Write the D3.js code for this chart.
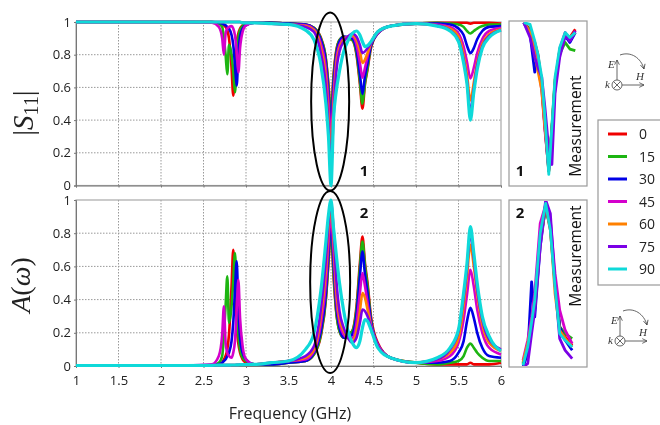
<!DOCTYPE html>
<html>
<head>
<meta charset="utf-8">
<script src="https://cdn.jsdelivr.net/npm/d3@7"></script>
<style>
  html, body { margin: 0; padding: 0; background: #fff; overflow: hidden; }
  svg { display: block; filter: blur(0.35px); }
  text { font-family: "Open Sans", sans-serif; fill: #222; }
  .icon text { font-family: "Liberation Serif", serif; font-style: italic; font-size: 11px; fill: #333; }
</style>
</head>
<body>
<div id="chart"></div>
<script>
const angles = ["0", "15", "30", "45", "60", "75", "90"];
const colors = ["#f00000", "#1db512", "#0000e6", "#d400cc", "#ff8000", "#7b00e6", "#0fd9d9"];
const xTicks = [1, 1.5, 2, 2.5, 3, 3.5, 4, 4.5, 5, 5.5, 6];
const yTicks = [0, 0.2, 0.4, 0.6, 0.8, 1];

const freq = [1, 2.3, 2.6, 2.68, 2.72, 2.74, 2.76, 2.78, 2.8, 2.83, 2.85, 2.87, 2.89, 2.91, 2.93, 2.96, 3, 3.1,
  3.3, 3.5, 3.7, 3.8, 3.88, 3.94, 3.97, 4, 4.03, 4.06, 4.1, 4.15, 4.2, 4.25, 4.3, 4.34, 4.37, 4.4, 4.43, 4.47,
  4.55, 4.7, 5, 5.25, 5.4, 5.5, 5.56, 5.6, 5.64, 5.68, 5.72, 5.78, 5.86, 6];

/* |S11| */
const s11_0 = [1, 1, 1, .995, .99, .98, .97, .95, .9, .72, .55, .7, .87, .93, .96, .98, .99, .995,
  .995, .99, .985, .965, .905, .775, .62, .42, .68, .82, .89, .91, .9, .89, .8, .62, .47, .62, .71, .84,
  .93, .975, .99, .995, .995, .995, .995, .995, .99, .995, .995, .995, .995, .99];
const s11_15 = [1, 1, 1, .99, .97, .9, .8, .68, .86, .8, .7, .57, .75, .9, .95, .975, .985, .995,
  .995, .99, .985, .965, .9, .77, .61, .4, .66, .81, .89, .91, .9, .89, .81, .64, .5, .63, .72, .85,
  .93, .975, .99, .995, .99, .985, .97, .945, .93, .945, .96, .975, .985, .985];
const s11_30 = [1, 1, 1, .995, .99, .985, .98, .97, .96, .92, .86, .74, .61, .8, .91, .96, .98, .995,
  .995, .99, .985, .96, .89, .75, .57, .36, .62, .79, .88, .91, .91, .9, .83, .68, .56, .67, .75, .855,
  .93, .975, .99, .99, .985, .96, .92, .855, .81, .84, .895, .945, .97, .975];
const s11_45 = [1, 1, .995, .97, .9, .8, .93, .96, .97, .975, .96, .92, .82, .69, .84, .94, .98, .995,
  .99, .985, .98, .955, .87, .71, .52, .3, .56, .76, .86, .9, .91, .91, .86, .75, .66, .72, .79, .87,
  .93, .975, .99, .985, .97, .93, .85, .755, .655, .72, .81, .895, .945, .965];
const s11_60 = [1, 1, 1, 1, 1, 1, 1, 1, 1, 1, 1, 1, 1, 1, 1, .995, .995, .995,
  .99, .985, .975, .95, .84, .65, .42, .2, .48, .72, .84, .89, .91, .92, .89, .82, .75, .77, .81, .87,
  .94, .975, .99, .98, .96, .91, .8, .68, .52, .63, .755, .865, .925, .955];
const s11_75 = [1, 1, 1, 1, 1, 1, 1, 1, 1, 1, 1, 1, 1, 1, 1, .995, .995, .995,
  .99, .985, .97, .94, .81, .6, .37, .12, .42, .68, .82, .88, .91, .93, .91, .86, .81, .82, .84, .87,
  .94, .975, .99, .98, .95, .89, .77, .64, .45, .59, .735, .85, .915, .95];
const s11_90 = [1, 1, 1, 1, 1, 1, 1, 1, 1, 1, 1, 1, 1, 1, 1, .995, .995, .995,
  .99, .985, .95, .89, .74, .5, .3, 0, .41, .57, .7, .82, .885, .93, .945, .92, .88, .85, .855, .88,
  .94, .975, .99, .975, .945, .88, .75, .62, .4, .57, .71, .84, .905, .95];

/* absorption */
const abs_0 = [.003, .003, .004, .01, .02, .04, .06, .1, .19, .48, .7, .51, .24, .135, .08, .04, .02, .01,
  .01, .02, .03, .07, .18, .4, .62, .82, .54, .33, .21, .17, .19, .21, .36, .62, .78, .62, .5, .3,
  .14, .05, .02, .01, .01, .01, .01, .01, .02, .01, .01, .01, .01, .02];
const abs_15 = [.003, .003, .004, .02, .06, .19, .36, .54, .26, .36, .51, .68, .44, .19, .1, .05, .03, .01,
  .01, .02, .03, .07, .19, .41, .63, .84, .56, .34, .21, .17, .19, .21, .34, .59, .75, .6, .48, .28,
  .13, .05, .02, .01, .02, .03, .06, .11, .135, .11, .08, .05, .03, .03];
const abs_30 = [.003, .003, .004, .01, .02, .03, .04, .06, .08, .15, .26, .45, .63, .36, .17, .08, .04, .01,
  .01, .02, .03, .08, .21, .44, .67, .87, .62, .38, .23, .17, .17, .19, .31, .54, .69, .55, .44, .27,
  .13, .05, .02, .02, .03, .08, .15, .27, .35, .29, .2, .11, .06, .05];
const abs_45 = [.003, .003, .01, .06, .19, .36, .14, .08, .06, .05, .08, .15, .33, .52, .29, .12, .04, .01,
  .02, .03, .04, .09, .25, .5, .73, .91, .69, .42, .26, .19, .17, .17, .26, .44, .56, .48, .38, .25,
  .13, .05, .02, .03, .06, .14, .28, .43, .58, .48, .34, .2, .11, .07];
const abs_60 = [.003, .003, .004, .005, .005, .005, .005, .005, .005, .006, .006, .006, .007, .007, .008, .008, .009, .01,
  .02, .03, .05, .1, .3, .58, .82, .96, .77, .48, .29, .21, .17, .15, .21, .33, .44, .41, .34, .24,
  .12, .05, .02, .04, .08, .17, .36, .54, .73, .6, .43, .25, .14, .09];
const abs_75 = [.003, .003, .004, .005, .005, .005, .005, .005, .005, .006, .006, .006, .007, .007, .008, .008, .009, .01,
  .02, .03, .06, .12, .34, .64, .86, .985, .82, .54, .33, .23, .17, .14, .17, .26, .34, .33, .3, .24,
  .12, .05, .02, .04, .1, .21, .41, .59, .8, .65, .46, .28, .16, .1];
const abs_90 = [.003, .003, .004, .005, .005, .005, .005, .005, .005, .006, .006, .006, .007, .007, .008, .008, .009, .01,
  .02, .03, .1, .2, .45, .75, .91, 1, .83, .68, .5, .33, .21, .14, .11, .15, .23, .28, .27, .22,
  .11, .05, .02, .05, .11, .22, .44, .62, .84, .68, .5, .3, .18, .09];

/* measurement insets */
const freqMeas1 = [3.69, 3.77, 3.83, 3.87, 3.92, 3.96, 4.01, 4.05, 4.09, 4.15, 4.22, 4.28, 4.35];
const meas1_0 = [.99, .95, .87, .8, .62, .36, .09, .34, .62, .82, .92, .9, .95];
const meas1_15 = [.99, .94, .86, .79, .6, .36, .09, .36, .64, .8, .87, .83, .82];
const meas1_30 = [.99, .92, .69, .78, .62, .38, .11, .34, .62, .81, .91, .87, .93];
const meas1_45 = [.99, .93, .84, .74, .58, .34, .1, .3, .6, .83, .93, .88, .94];
const meas1_60 = [.99, .93, .8, .7, .58, .36, .12, .34, .64, .82, .92, .9, .93];
const meas1_75 = [.99, .9, .78, .72, .66, .48, .22, .13, .56, .78, .91, .88, .94];
const meas1_90 = [.99, .98, .88, .8, .66, .42, .07, .36, .66, .84, .93, .9, .93];

const freqMeas2 = [3.68, 3.74, 3.79, 3.83, 3.9, 3.97, 4.03, 4.09, 4.15, 4.22, 4.31];
const meas2_0 = [.02, .12, .26, .38, .78, .96, .82, .5, .24, .18, .13];
const meas2_15 = [.02, .13, .27, .4, .76, .95, .84, .5, .24, .2, .17];
const meas2_30 = [0, .08, .51, .3, .72, .97, .86, .5, .24, .16, .1];
const meas2_45 = [.04, .16, .3, .44, .86, .97, .88, .56, .34, .22, .14];
const meas2_60 = [.03, .14, .26, .36, .74, .97, .84, .44, .22, .17, .12];
const meas2_75 = [0, .02, .2, .34, .72, 1, .92, .5, .17, .1, .05];
const meas2_90 = [.01, .12, .27, .4, .8, .98, .82, .48, .2, .16, .12];

const s11 = [s11_0, s11_15, s11_30, s11_45, s11_60, s11_75, s11_90];
const abs = [abs_0, abs_15, abs_30, abs_45, abs_60, abs_75, abs_90];
const meas1 = [meas1_0, meas1_15, meas1_30, meas1_45, meas1_60, meas1_75, meas1_90];
const meas2 = [meas2_0, meas2_15, meas2_30, meas2_45, meas2_60, meas2_75, meas2_90];

const svg = d3.select("#chart").append("svg")
  .attr("width", 660)
  .attr("height", 425);

const x = d3.scaleLinear().domain([1, 6]).range([76, 501]);
const yTop = d3.scaleLinear().domain([0, 1]).range([185.5, 22]);
const yBot = d3.scaleLinear().domain([0, 1]).range([366, 200]);
const xMeas = d3.scaleLinear().domain([3.5, 4.5]).range([509, 587]);
const yMeas1 = d3.scaleLinear().domain([0, 1]).range([186, 21]);
const yMeas2 = d3.scaleLinear().domain([0, 1]).range([367, 200]);

/* one clip per plot, lines must not leave the frame */
const addClip = (id, x0, y0, w, h) => {
  svg.append("clipPath").attr("id", id).append("rect")
    .attr("x", x0).attr("y", y0).attr("width", w).attr("height", h);
};
addClip("clipTop", 74, 19, 430, 168);
addClip("clipBot", 74, 197, 430, 170);
addClip("clipM1", 510, 22, 76, 163);
addClip("clipM2", 510, 201, 76, 165);

const drawPanel = (y, series, clipId, showLabels) => {
  const g = svg.append("g");

  /* dotted grid */
  g.selectAll("line.vgrid").data(xTicks.slice(1, -1)).join("line")
    .attr("class", "vgrid")
    .attr("x1", d => x(d)).attr("x2", d => x(d))
    .attr("y1", y(1)).attr("y2", y(0))
    .attr("stroke", "#999").attr("stroke-dasharray", "1.5 1.5");
  g.selectAll("line.hgrid").data(yTicks.slice(1, -1)).join("line")
    .attr("class", "hgrid")
    .attr("x1", x(1)).attr("x2", x(6))
    .attr("y1", d => y(d)).attr("y2", d => y(d))
    .attr("stroke", "#999").attr("stroke-dasharray", "1.5 1.5");

  /* frame */
  g.append("rect")
    .attr("x", x(1)).attr("y", y(1))
    .attr("width", x(6) - x(1)).attr("height", y(0) - y(1))
    .attr("fill", "none").attr("stroke", "#a8a8a8").attr("stroke-width", 1.2);

  const xAxis = d3.axisBottom(x).tickValues(xTicks).tickSize(2).tickPadding(8)
    .tickFormat(showLabels ? d3.format("~g") : "");
  const yAxis = d3.axisLeft(y).tickValues(yTicks).tickSize(2).tickPadding(3)
    .tickFormat(d3.format("~g"));

  const ax = g.append("g").attr("transform", `translate(0,${y(0)})`).call(xAxis);
  const ay = g.append("g").attr("transform", `translate(${x(1)},0)`).call(yAxis);
  [ax, ay].forEach(a => {
    a.selectAll("path,line").attr("stroke", "#777");
    a.selectAll("text").style("font-size", "13px").attr("fill", "#222");
  });

  const line = d3.line()
    .x((d, i) => x(freq[i]))
    .y(d => y(d))
    .curve(d3.curveMonotoneX);

  g.append("g").attr("clip-path", `url(#${clipId})`)
    .selectAll("path").data(series).join("path")
    .attr("d", line)
    .attr("fill", "none")
    .attr("stroke", (d, i) => colors[i])
    .attr("stroke-width", (d, i) => i === 6 ? 3.2 : 2.6)
    .attr("stroke-linejoin", "round");
};

drawPanel(yTop, s11, "clipTop", false);
drawPanel(yBot, abs, "clipBot", true);

const drawInset = (y, fs, series, clipId) => {
  svg.append("rect")
    .attr("x", 509).attr("y", y(1))
    .attr("width", 78).attr("height", y(0) - y(1))
    .attr("fill", "#fff").attr("stroke", "#9a9a9a").attr("stroke-width", 1.2);

  const line = d3.line().x((d, i) => xMeas(fs[i])).y(d => y(d));

  svg.append("g").attr("clip-path", `url(#${clipId})`)
    .selectAll("path").data(series).join("path")
    .attr("d", line)
    .attr("fill", "none")
    .attr("stroke", (d, i) => colors[i])
    .attr("stroke-width", 2.8)
    .attr("stroke-linejoin", "round");
};

drawInset(yMeas1, freqMeas1, meas1, "clipM1");
drawInset(yMeas2, freqMeas2, meas2, "clipM2");

/* ellipses around the 4 GHz resonance */
svg.append("ellipse")
  .attr("cx", x(3.99)).attr("cy", 101.5).attr("rx", 19).attr("ry", 89)
  .attr("fill", "none").attr("stroke", "#000").attr("stroke-width", 2);
svg.append("ellipse")
  .attr("cx", x(3.99)).attr("cy", 282).attr("rx", 20).attr("ry", 91)
  .attr("fill", "none").attr("stroke", "#000").attr("stroke-width", 2);

/* panel numbers */
const bold = (t, px, py) => svg.append("text").text(t)
  .attr("x", px).attr("y", py)
  .attr("text-anchor", "middle")
  .style("font-size", "15px").style("font-weight", "700").style("fill", "#111");
bold("1", 364, 176);
bold("2", 364, 218);
bold("1", 520, 176);
bold("2", 520, 218);

const measLabel = (cx, cy) => svg.append("text").text("Measurement")
  .attr("transform", `translate(${cx},${cy}) rotate(-90)`)
  .attr("text-anchor", "middle")
  .style("font-size", "15.5px").style("fill", "#111");
measLabel(581, 126);
measLabel(581, 256);

/* axis titles */
const yTitleTop = svg.append("text")
  .attr("transform", "translate(33,113) rotate(-90)")
  .attr("text-anchor", "middle")
  .style("font-family", "'Liberation Serif', serif")
  .style("font-size", "29px")
  .style("fill", "#222");
yTitleTop.append("tspan").text("|");
yTitleTop.append("tspan").text("S").style("font-style", "italic");
yTitleTop.append("tspan").text("11").attr("dy", 5).style("font-size", "20px");
yTitleTop.append("tspan").text("|").attr("dy", -5);

const yTitleBot = svg.append("text")
  .attr("transform", "translate(30,285) rotate(-90)")
  .attr("text-anchor", "middle")
  .style("font-family", "'Liberation Serif', serif")
  .style("font-size", "28px")
  .style("fill", "#222");
yTitleBot.append("tspan").text("A").style("font-style", "italic");
yTitleBot.append("tspan").text("(");
yTitleBot.append("tspan").text("ω").style("font-style", "italic");
yTitleBot.append("tspan").text(")");

svg.append("text").text("Frequency (GHz)")
  .attr("x", 290).attr("y", 419)
  .attr("text-anchor", "middle")
  .style("font-size", "16px");

/* legend */
const legendY = d3.scalePoint().domain(angles).range([134, 269]);
svg.append("rect")
  .attr("x", 598).attr("y", 120).attr("width", 70).attr("height", 165)
  .attr("fill", "#fff").attr("stroke", "#999").attr("stroke-width", 1.2);
const legend = svg.selectAll("g.legend").data(angles).join("g").attr("class", "legend");
legend.append("line")
  .attr("x1", 608).attr("x2", 627)
  .attr("y1", d => legendY(d)).attr("y2", d => legendY(d))
  .attr("stroke", (d, i) => colors[i]).attr("stroke-width", 3);
legend.append("text").text(d => d)
  .attr("x", 639).attr("y", d => legendY(d) + 5)
  .style("font-size", "14px");

/* polarization sketches */
svg.append("defs").append("marker")
  .attr("id", "tip").attr("viewBox", "0 0 8 8").attr("refX", 7).attr("refY", 4)
  .attr("markerWidth", 7).attr("markerHeight", 7).attr("orient", "auto")
  .append("path").attr("d", "M1 1L7 4L1 7").attr("fill", "none").attr("stroke", "#444").attr("stroke-width", 1);

const drawIcon = (ox, oy) => {
  const g = svg.append("g").attr("class", "icon").attr("transform", `translate(${ox},${oy})`);
  const st = sel => sel.attr("fill", "none").attr("stroke", "#555").attr("stroke-width", 0.9);
  st(g.append("circle").attr("r", 5));
  st(g.append("path").attr("d", "M-3.5 -3.5L3.5 3.5M-3.5 3.5L3.5 -3.5"));
  st(g.append("path").attr("d", "M0 -5V-25")).attr("marker-end", "url(#tip)");
  st(g.append("path").attr("d", "M5 0H27")).attr("marker-end", "url(#tip)");
  st(g.append("path").attr("d", "M3 -30C14 -34 24 -27 27 -16")).attr("marker-end", "url(#tip)");
  g.append("text").text("E").attr("x", -9).attr("y", -17);
  g.append("text").text("H").attr("x", 19).attr("y", -5);
  g.append("text").text("k").attr("x", -12).attr("y", 3);
};
drawIcon(617, 85);
drawIcon(620, 341);
</script>
</body>
</html>
